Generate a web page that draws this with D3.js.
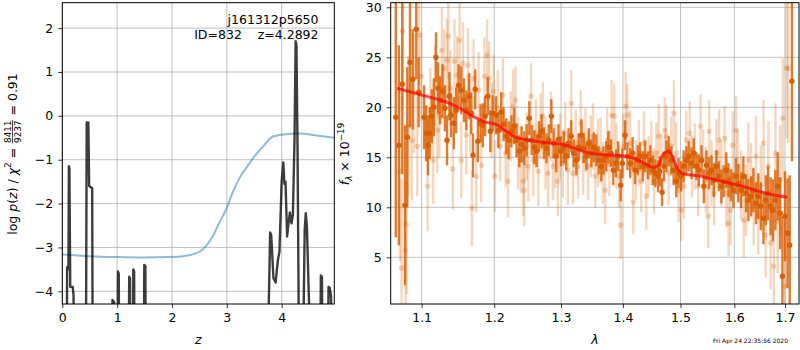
<!DOCTYPE html>
<html><head><meta charset="utf-8">
<script src="https://cdn.jsdelivr.net/npm/d3@7"></script>
<style>
body{margin:0;background:#fff}
svg{display:block;font-family:"DejaVu Sans",sans-serif}
</style></head><body>
<svg id="c" width="800" height="350"></svg>
<script>
// ---------- Left panel data ----------
const zTicks = [0,1,2,3,4];
const logpTicks = [-4,-3,-2,-1,0,1,2];
const pzZ = [0.00,0.080,0.088,0.112,0.120,0.130,0.145,0.190,0.205,0.215,
  0.430,0.445,0.475,0.490,0.545,0.555,
  0.905,0.915,0.945,0.952,1.005,1.015,1.030,1.037,
  1.210,1.220,1.235,1.242,1.285,1.295,1.310,1.317,1.485,1.495,1.515,1.522,
  3.740,3.790,3.810,3.850,3.870,3.890,3.910,3.930,3.960,4.000,4.030,4.050,4.070,
  4.100,4.120,4.150,4.180,4.205,4.235,4.255,4.270,4.290,4.310,4.330,
  4.385,4.420,4.440,4.460,4.500,4.520,4.700,4.715,4.735,4.745,
  4.840,4.855,4.875,4.900,4.930,4.960];
const pzLog = [-6,-6,-3.45,-3.5,-1.15,-1.2,-3.9,-3.9,-4.1,-6,
  -6,-0.15,-0.15,-1.6,-1.65,-6,
  -6,-4.2,-4.25,-6,-6,-3.55,-3.6,-6,
  -6,-3.67,-3.7,-6,-6,-3.5,-3.55,-6,-6,-3.4,-3.42,-6,
  -6,-2.66,-2.72,-3.7,-3.75,-3.8,-3.55,-3.3,-3.1,-1.5,-1.06,-1.55,-1.5,
  -2.75,-2.5,-2.2,-2.45,-2.25,-0.5,1.7,1.6,-0.8,-4.3,-6,
  -6,-2.6,-2.22,-2.5,-4.3,-6,-6,-3.64,-3.68,-6,
  -6,-3.9,-3.92,-4.1,-6,-6];
const chiZ = [0,0.5,1.0,1.5,1.9,2.2,2.5,2.74,2.86,3.0,3.1,3.23,3.37,3.5,3.66,3.84,4.0,4.33,4.6,4.96];
const chiV = [-3.16,-3.2,-3.22,-3.23,-3.22,-3.2,-3.1,-2.75,-2.45,-2.1,-1.77,-1.42,-1.16,-0.93,-0.70,-0.47,-0.43,-0.40,-0.44,-0.50];

// ---------- Right panel data ----------
const lamTicks = [1.1,1.2,1.3,1.4,1.5,1.6,1.7];
const fluxTicks = [5,10,15,20,25,30];
const darkLam = [1.0665,1.0704,1.0748,1.0783,1.0813,1.0848,1.0883,1.0930,1.0961,
  1.1033,1.1060,1.1084,1.1107,1.1135,1.1163,1.1191,1.1219,1.1247,1.1279,1.1312,1.1340,1.1372,1.1395,1.1433,1.1465,1.1498,1.1535,1.1572,1.1605,1.1642,1.1674,1.1698,1.1730,1.1767,1.1805,1.1837,1.1870,1.1907,1.1944,1.1977,
  1.2025,1.2060,1.2100,1.2135,1.2175,1.2210,1.2250,1.2290,1.2325,1.2365,1.2400,1.2440,1.2475,1.2515,1.2550,1.2590,1.2625,1.2660,1.2700,1.2735,1.2775,1.2810,1.2850,1.2885,1.2925,1.2960,
  1.3000,1.3043,1.3080,1.3118,1.3160,1.3198,1.3241,1.3278,1.3321,1.3358,1.3401,1.3439,1.3481,1.3519,1.3561,1.3599,1.3642,1.3679,1.3722,1.3759,1.3802,1.3840,1.3882,1.3920,1.3963,1.3989,
  1.4035,1.4076,1.4123,1.4164,1.4205,1.4251,1.4292,1.4339,1.4380,1.4427,1.4468,1.4515,1.4556,1.4602,1.4632,1.4673,1.4708,1.4749,1.4789,1.4836,1.4877,1.4924,1.4965,
  1.5012,1.5056,1.5105,1.5148,1.5198,1.5241,1.5290,1.5333,1.5383,1.5426,1.5475,1.5519,1.5568,1.5611,1.5660,1.5704,1.5753,1.5796,1.5846,1.5889,1.5938,1.5981,
  1.6032,1.6077,1.6129,1.6174,1.6226,1.6271,1.6323,1.6368,1.6419,1.6465,1.6516,1.6568,1.6613,1.6658,1.6710,1.6755,1.6806,1.6852,1.6903,1.6948,1.7000,1.7052,1.7097,1.7142];
const darkFlux = [19.0,16.2,22.3,10.2,17.0,24.5,22.8,27.8,21.5,
  19.0,17.4,16.2,17.4,19.1,20.0,25.0,21.9,20.7,21.6,19.9,16.7,21.1,19.2,18.4,19.7,22.2,21.7,20.7,19.7,21.1,19.4,15.2,21.8,16.6,18.4,18.2,19.1,21.1,17.6,19.4,
  19.2,17.7,19.5,18.3,17.1,16.7,17.6,18.1,16.7,15.6,16.3,15.9,16.7,18.9,16.7,16.0,15.6,17.1,17.6,16.4,15.9,16.7,19.1,16.4,15.1,16.8,
  15.6,16.0,15.1,16.4,17.1,15.4,14.7,16.0,17.2,15.9,15.1,16.4,15.4,16.0,15.7,14.7,14.1,14.7,15.1,16.0,15.4,13.7,14.4,15.1,12.2,14.4,
  17.2,15.1,14.4,15.4,13.7,14.7,15.1,14.1,15.1,14.2,14.7,13.7,13.4,13.1,13.6,11.5,14.1,15.1,15.6,14.7,13.7,12.6,13.4,
  13.1,14.1,14.7,15.1,14.4,15.4,14.1,13.7,14.7,12.1,14.2,13.4,13.7,12.7,14.1,13.1,12.1,12.6,13.7,12.7,12.2,11.7,
  13.1,12.4,11.7,13.1,11.4,10.7,11.1,11.7,10.4,11.1,10.1,8.9,10.7,11.4,10.1,9.7,10.7,12.1,9.4,3.1,9.1,7.4,6.2,22.6];
const darkErr = [12,10,9,8,7,6.5,5,5,3.5,
  3.2,2.8,3.0,2.6,2.7,2.9,2.5,2.6,2.4,2.7,2.3,2.5,2.4,2.2,2.6,2.3,2.1,2.4,2.2,2.0,2.3,2.1,2.2,2.0,2.1,1.9,2.2,2.0,1.9,2.1,1.8,
  1.9,1.8,2.0,1.7,1.8,1.9,1.6,1.8,1.7,1.6,1.8,1.7,1.6,1.7,1.5,1.7,1.6,1.5,1.7,1.6,1.5,1.6,1.7,1.5,1.6,1.5,
  1.5,1.6,1.4,1.5,1.6,1.4,1.5,1.4,1.6,1.5,1.4,1.5,1.4,1.5,1.6,1.4,1.5,1.4,1.5,1.6,1.4,1.5,1.4,1.5,1.6,1.5,
  1.5,1.4,1.5,1.6,1.4,1.5,1.4,1.5,1.6,1.4,1.5,1.5,1.4,1.6,1.5,1.4,1.5,1.6,1.5,1.4,1.5,1.6,1.5,
  1.5,1.6,1.4,1.5,1.6,1.5,1.4,1.6,1.5,1.7,1.5,1.6,1.5,1.7,1.6,1.5,1.7,1.6,1.8,1.7,1.6,1.8,
  1.8,1.9,1.8,2.0,1.9,2.1,2.0,2.2,2.1,2.3,2.4,2.6,2.5,2.7,2.9,3.1,3.0,3.4,3.6,6.0,4.5,5.5,7.0,8.0];
const lightLam = [1.0739,1.0791,1.0804,1.0717,1.0752,1.0826,1.0870,1.0900,1.0943,1.0965,1.0996,
  1.1079,1.1116,1.1153,1.1177,1.1209,1.1237,1.1270,1.1302,1.1340,1.1358,1.1386,1.1419,1.1442,1.1479,1.1512,1.1535,1.1558,1.1605,1.1628,1.1660,1.1684,1.1707,1.1744,1.1777,1.1814,1.1860,1.1898,1.1926,1.1963,1.1991,
  1.2010,1.2050,1.2085,1.2125,1.2165,1.2200,1.2240,1.2275,1.2310,1.2350,1.2390,1.2425,1.2440,1.2475,1.2500,1.2540,1.2575,1.2615,1.2650,1.2685,1.2720,1.2760,1.2800,1.2840,1.2875,1.2910,1.2950,1.2985,
  1.3027,1.3064,1.3107,1.3160,1.3187,1.3230,1.3267,1.3310,1.3348,1.3385,1.3428,1.3471,1.3508,1.3545,1.3588,1.3631,1.3668,1.3706,1.3738,1.3775,1.3813,1.3856,1.3893,1.3936,1.3963,
  1.4006,1.4047,1.4076,1.4123,1.4175,1.4222,1.4269,1.4310,1.4357,1.4398,1.4439,1.4485,1.4532,1.4573,1.4614,1.4661,1.4719,1.4749,1.4789,1.4836,1.4883,1.4924,1.4965,
  1.5012,1.5062,1.5105,1.5167,1.5210,1.5259,1.5321,1.5364,1.5414,1.5463,1.5506,1.5525,1.5568,1.5617,1.5660,1.5710,1.5753,1.5815,1.5846,1.5889,1.5926,1.5969,
  1.6032,1.6065,1.6129,1.6181,1.6226,1.6271,1.6323,1.6374,1.6419,1.6465,1.6516,1.6568,1.6613,1.6665,1.6710,1.6774,1.6806,1.6852,1.6903,1.6955,1.7000,1.7032,1.7065];
const lightFlux = [3.9,5.7,8.3,13.6,27.6,18.1,16.7,21.4,16.1,27.2,23.1,
  12.1,19.7,14.7,22.2,17.7,19.1,25.7,23.9,24.7,27.1,21.9,13.8,24.6,23.2,26.7,14.7,24.4,17.2,24.2,19.4,9.9,22.9,13.1,21.7,14.2,23.1,25.2,22.9,18.7,21.6,
  13.1,19.9,16.1,21.2,15.4,12.6,18.1,20.1,20.7,15.4,14.7,12.6,11.7,16.1,14.1,21.1,14.7,17.4,13.6,18.1,19.1,15.4,13.4,18.1,14.1,15.1,12.6,16.1,
  14.4,17.4,13.7,20.4,13.4,16.4,14.1,18.4,14.7,16.7,14.1,16.1,17.1,13.1,15.4,15.7,13.4,11.7,16.7,14.4,19.2,19.1,15.1,13.1,8.2,
  16.1,20.1,19.2,16.4,10.5,13.7,15.4,12.6,16.4,11.1,14.1,15.4,12.6,15.4,17.1,14.4,17.7,17.1,13.4,16.1,19.4,15.4,11.7,
  9.7,12.1,16.7,17.4,14.1,15.1,12.1,18.1,14.7,12.7,9.1,17.6,13.4,11.4,15.4,16.7,13.4,16.9,11.4,8.4,9.7,16.2,
  17.7,14.1,12.2,8.7,10.7,14.7,12.7,10.1,15.1,9.2,12.1,16.4,7.2,14.1,6.4,4.1,15.4,8.6,12.7,18.9,2.1,23.9,23.9];
const lightErr = [9,7,7,9,8,7,6,6,5,5,4.5,
  4.5,4.2,4.4,4.0,4.3,4.1,4.2,3.9,4.1,4.3,3.8,4.0,4.2,3.9,4.0,3.8,4.1,3.9,3.7,4.0,3.8,3.9,3.6,3.8,3.7,3.9,3.6,3.7,3.8,3.6,
  3.6,3.8,3.5,3.7,3.4,3.6,3.5,3.7,3.4,3.6,3.3,3.5,3.6,3.4,3.5,3.3,3.6,3.4,3.5,3.3,3.4,3.6,3.3,3.5,3.4,3.2,3.5,3.3,
  3.4,3.2,3.5,3.3,3.1,3.4,3.2,3.3,3.5,3.2,3.4,3.1,3.3,3.2,3.4,3.3,3.1,3.4,3.2,3.3,3.5,3.2,3.3,3.1,3.4,
  3.2,3.4,3.1,3.3,3.2,3.0,3.3,3.1,3.2,3.4,3.0,3.2,3.3,3.1,3.2,3.0,3.3,3.1,3.2,3.0,3.3,3.1,3.2,
  3.1,3.3,3.0,3.2,3.1,3.3,3.0,3.2,3.1,3.3,3.2,3.1,3.3,3.2,3.4,3.1,3.3,3.2,3.4,3.3,3.5,3.4,
  3.4,3.6,3.5,3.7,3.6,3.8,3.7,3.9,4.0,3.9,4.1,4.3,4.2,4.5,4.6,4.8,5.0,5.2,5.5,6.0,6.5,7.0,7.5];
const modelLam = [1.0683,1.10,1.1244,1.1475,1.1706,1.185,1.2048,1.2147,1.2293,1.2491,1.2741,1.30,1.3209,1.342,1.3748,1.40,1.4187,1.4358,1.453,1.4618,1.4694,1.4793,1.4853,1.4942,1.506,1.536,1.5665,1.60,1.6288,1.668,1.705];
const modelFlux = [21.9,21.23,20.73,20.07,19.07,18.57,18.23,17.73,17.07,16.73,16.47,16.33,15.9,15.47,15.23,15.13,14.9,14.4,14.0,14.23,15.33,15.57,15.07,13.9,13.33,13.13,12.73,12.3,11.9,11.33,11.0];

const titleLine1 = "j161312p5650";
const titleLine2 = "ID=832    z=4.2892";
const dateText = "Fri Apr 24 22:35:56 2020";

// ---------- Drawing ----------
const svg = d3.select("#c");
const FS = 12.5;
const A = {l:62.3, r:334.3, t:2.7, b:304};
const B = {l:390.7, r:799, t:2.7, b:304};
const x1 = d3.scaleLinear().domain([0,4.96]).range([A.l,A.r]);
const y1 = d3.scaleLinear().domain([-4.29,2.58]).range([A.b,A.t]);
const x2 = d3.scaleLog().domain([1.06,1.7288]).range([B.l,B.r]);
const y2 = d3.scaleLinear().domain([0.33,30.46]).range([B.b,B.t]);
const ORANGE = "#d95f02";

const defs = svg.append("defs");
defs.append("clipPath").attr("id","clipA").append("rect")
  .attr("x",A.l).attr("y",A.t).attr("width",A.r-A.l).attr("height",A.b-A.t);
defs.append("clipPath").attr("id","clipB").append("rect")
  .attr("x",B.l).attr("y",B.t).attr("width",B.r-B.l).attr("height",B.b-B.t);

function grid(box, xs, ys, xt, yt){
  const g = svg.append("g").attr("stroke","#b0b0b0").attr("stroke-width",0.8);
  g.selectAll(".gx").data(xt).enter().append("line")
    .attr("x1",d=>xs(d)).attr("x2",d=>xs(d)).attr("y1",box.t).attr("y2",box.b);
  g.selectAll(".gy").data(yt).enter().append("line")
    .attr("y1",d=>ys(d)).attr("y2",d=>ys(d)).attr("x1",box.l).attr("x2",box.r);
}
grid(A, x1, y1, zTicks, logpTicks);
grid(B, x2, y2, lamTicks, fluxTicks);

function styleAxis(g){
  g.select(".domain").remove();
  g.selectAll("text").attr("font-size",FS).attr("font-family","DejaVu Sans").attr("fill","#000");
  g.selectAll("line").attr("stroke","#000").attr("stroke-width",0.8);
}
svg.append("g").attr("transform",`translate(0,${A.b})`)
  .call(d3.axisBottom(x1).tickValues(zTicks).tickSize(4).tickPadding(5).tickFormat(d3.format("d"))).call(styleAxis);
svg.append("g").attr("transform",`translate(${A.l},0)`)
  .call(d3.axisLeft(y1).tickValues(logpTicks).tickSize(4).tickPadding(5).tickFormat(d3.format("d"))).call(styleAxis);
svg.append("g").attr("transform",`translate(0,${B.b})`)
  .call(d3.axisBottom(x2).tickValues(lamTicks).tickSize(4).tickPadding(5).tickFormat(d3.format(".1f"))).call(styleAxis);
svg.append("g").attr("transform",`translate(${B.l},0)`)
  .call(d3.axisLeft(y2).tickValues(fluxTicks).tickSize(4).tickPadding(5).tickFormat(d3.format("d"))).call(styleAxis);

// left panel lines
const gA = svg.append("g").attr("clip-path","url(#clipA)");
gA.append("path").datum(chiZ.map((z,i)=>[z,chiV[i]]))
  .attr("d", d3.line().x(d=>x1(d[0])).y(d=>y1(d[1])).curve(d3.curveMonotoneX))
  .attr("fill","none").attr("stroke","#1f77b4").attr("stroke-opacity",0.5).attr("stroke-width",2);
gA.append("path").datum(pzZ.map((z,i)=>[z,pzLog[i]]))
  .attr("d", d3.line().x(d=>x1(d[0])).y(d=>y1(d[1])))
  .attr("fill","none").attr("stroke","#000").attr("stroke-opacity",0.76).attr("stroke-width",2.4).attr("stroke-linejoin","round");

// right panel
const gB = svg.append("g").attr("clip-path","url(#clipB)");
const light = lightLam.map((l,i)=>({l, f:lightFlux[i], e:lightErr[i]}));
const dark = darkLam.map((l,i)=>({l, f:darkFlux[i], e:darkErr[i]}));
const gl = gB.append("g");
gl.selectAll("line").data(light).enter().append("line")
  .attr("x1",d=>x2(d.l)).attr("x2",d=>x2(d.l)).attr("y1",d=>y2(d.f-d.e)).attr("y2",d=>y2(d.f+d.e))
  .attr("stroke",ORANGE).attr("stroke-opacity",0.26).attr("stroke-width",2.4);
gl.selectAll("circle").data(light).enter().append("circle")
  .attr("cx",d=>x2(d.l)).attr("cy",d=>y2(d.f)).attr("r",2.7)
  .attr("fill",ORANGE).attr("fill-opacity",0.26);
const gd = gB.append("g");
gd.selectAll("line").data(dark).enter().append("line")
  .attr("x1",d=>x2(d.l)).attr("x2",d=>x2(d.l)).attr("y1",d=>y2(d.f-d.e)).attr("y2",d=>y2(d.f+d.e))
  .attr("stroke",ORANGE).attr("stroke-opacity",0.82).attr("stroke-width",2.4);
gd.selectAll("circle").data(dark).enter().append("circle")
  .attr("cx",d=>x2(d.l)).attr("cy",d=>y2(d.f)).attr("r",2.7)
  .attr("fill",ORANGE);
gB.append("path").datum(modelLam.map((l,i)=>[l,modelFlux[i]]))
  .attr("d", d3.line().x(d=>x2(d[0])).y(d=>y2(d[1])).curve(d3.curveMonotoneX))
  .attr("fill","none").attr("stroke","#ff0000").attr("stroke-opacity",0.7).attr("stroke-width",3);

// frames
[A,B].forEach(b=>svg.append("rect").attr("x",b.l).attr("y",b.t).attr("width",b.r-b.l).attr("height",b.b-b.t)
  .attr("fill","none").attr("stroke","#000").attr("stroke-width",1));

// title text
const tt = svg.append("text").attr("font-size",FS).attr("text-anchor","end").style("white-space","pre");
tt.append("tspan").attr("x",318.5).attr("y",24).text(titleLine1);
tt.append("tspan").attr("x",318.5).attr("y",39).text(titleLine2);

// x labels
svg.append("text").attr("x",(A.l+A.r)/2).attr("y",344).attr("text-anchor","middle")
  .attr("font-size",FS).attr("font-style","italic").text("z");
svg.append("text").attr("x",(B.l+B.r)/2).attr("y",344).attr("text-anchor","middle")
  .attr("font-size",FS).attr("font-style","italic").text("λ");

// left y label with fraction
(function(){
  const g = svg.append("g").attr("transform","translate(16.5,154) rotate(-90)");
  const inner = g.append("g");
  let x = 0;
  function piece(txt, opts={}){
    const t = inner.append("text").attr("x",x).attr("y",opts.dy||0)
      .attr("font-size",opts.size||FS).attr("font-style",opts.italic?"italic":"normal")
      .style("white-space","pre").text(txt);
    x += t.node().getComputedTextLength();
    return t;
  }
  piece("log ");
  piece("p",{italic:true});
  piece("(");
  piece("z",{italic:true});
  piece(") / ");
  piece("χ",{italic:true});
  piece("2",{size:8.8,dy:-5.5});
  piece(" = ");
  const fs = 8.8;
  const num = inner.append("text").attr("font-size",fs).attr("y",-6).text("8411");
  const den = inner.append("text").attr("font-size",fs).attr("y",4.2).text("9237");
  const wn = num.node().getComputedTextLength(), wd = den.node().getComputedTextLength();
  const wf = Math.max(wn,wd) + 2;
  num.attr("x", x + (wf-wn)/2);
  den.attr("x", x + (wf-wd)/2);
  inner.append("line").attr("x1",x+0.5).attr("x2",x+wf-0.5).attr("y1",-4).attr("y2",-4)
    .attr("stroke","#000").attr("stroke-width",0.7);
  x += wf;
  piece(" = 0.91");
  inner.attr("transform",`translate(${-x/2},0)`);
})();

// right y label
(function(){
  const g = svg.append("g").attr("transform","translate(349,154) rotate(-90)");
  const t = g.append("text").attr("font-size",FS).attr("text-anchor","middle").style("white-space","pre");
  t.append("tspan").attr("font-style","italic").text("f");
  t.append("tspan").attr("font-style","italic").attr("font-size",8.8).attr("dy",2.5).text("λ");
  t.append("tspan").attr("dy",-2.5).text(" × 10");
  t.append("tspan").attr("font-size",8.8).attr("dy",-5.5).text("−19");
})();

// date
svg.append("text").attr("x",788).attr("y",342.5).attr("text-anchor","end")
  .attr("font-size",6).text(dateText);
</script>
</body></html>
